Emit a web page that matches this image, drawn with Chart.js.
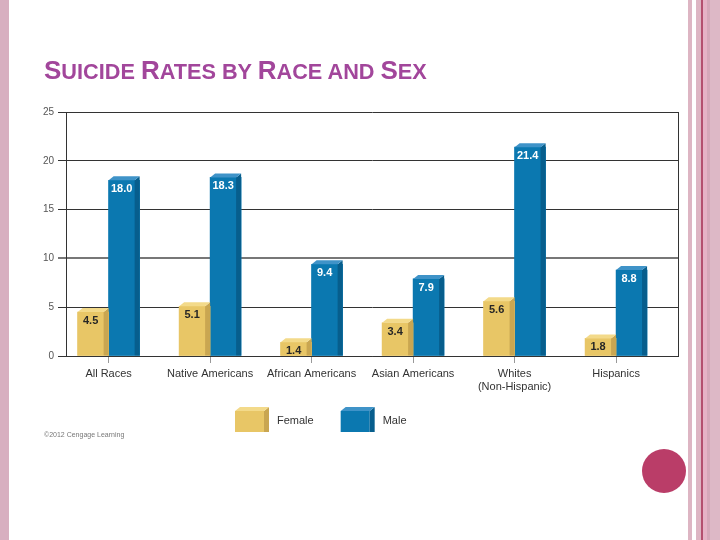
<!DOCTYPE html>
<html>
<head>
<meta charset="utf-8">
<script src="https://cdn.jsdelivr.net/npm/chart.js@4.4.1/dist/chart.umd.min.js"></script>
<style>
  html, body { margin: 0; padding: 0; background: #fff; }
  #slide { position: relative; width: 720px; height: 540px; overflow: hidden; font-family: "Liberation Sans", Arial, sans-serif; }
  #chart { position: absolute; left: 0; top: 0; }
  #title { position: absolute; left: 44px; top: 57px; font-size: 21.7px; line-height: 26px; font-weight: bold; color: #a2469b; white-space: nowrap; }
  #title .big { font-size: 26px; }
  #credit { position: absolute; left: 44px; top: 431px; font-size: 7px; color: #777; }
  .band { position: absolute; top: 0; height: 540px; }
  #dot { position: absolute; left: 642px; top: 449px; width: 44px; height: 44px; border-radius: 50%; background: #ba3d68; }
</style>
</head>
<body>
<div id="slide">
  <canvas id="chart" width="720" height="540"></canvas>
  <div class="band" style="left:0;width:9px;background:#d8afc0"></div>
  <div class="band" style="left:688px;width:4px;background:#ddb5c3"></div>
  <div class="band" style="left:696px;width:5px;background:#ddb5c3"></div>
  <div class="band" style="left:701px;width:2px;background:#b4506f"></div>
  <div class="band" style="left:703px;width:4px;background:#e6b3c6"></div>
  <div class="band" style="left:707px;width:3px;background:#d5a8b9"></div>
  <div class="band" style="left:710px;width:10px;background:#ddb8c6"></div>
  <div id="dot"></div>
  <div id="title"><span class="big">S</span>UICIDE <span class="big">R</span>ATES BY <span class="big">R</span>ACE AND <span class="big">S</span>EX</div>
  <div id="credit">©2012 Cengage Learning</div>
</div>
<script>
// data
const categories = ["All Races", "Native Americans", "African Americans", "Asian Americans", ["Whites", "(Non-Hispanic)"], "Hispanics"];
const female = [4.5, 5.1, 1.4, 3.4, 5.6, 1.8];
const male = [18.0, 18.3, 9.4, 7.9, 21.4, 8.8];
const yTicks = [0, 5, 10, 15, 20, 25];

const DEPTH_X = 5;
const DEPTH_Y = 4;

Chart.defaults.font.family = "'Liberation Sans', Arial, sans-serif";

function drawBox(ctx, left, right, top, bottom, front, side, topColor) {
  ctx.fillStyle = front;
  ctx.fillRect(left, top, right - left - DEPTH_X, bottom - top);
  // side face
  ctx.fillStyle = side;
  ctx.beginPath();
  ctx.moveTo(right - DEPTH_X, top);
  ctx.lineTo(right, top - DEPTH_Y);
  ctx.lineTo(right, bottom);
  ctx.lineTo(right - DEPTH_X, bottom);
  ctx.closePath();
  ctx.fill();
  // top face
  ctx.fillStyle = topColor;
  ctx.beginPath();
  ctx.moveTo(left, top);
  ctx.lineTo(left + DEPTH_X, top - DEPTH_Y);
  ctx.lineTo(right, top - DEPTH_Y);
  ctx.lineTo(right - DEPTH_X, top);
  ctx.closePath();
  ctx.fill();
}

// 3d faces + value labels on each bar
const bars3d = {
  id: "bars3d",
  afterDatasetDraw(chart, args) {
    const ctx = chart.ctx;
    const ds = chart.data.datasets[args.index];
    ctx.save();
    args.meta.data.forEach((el, i) => {
      const p = el.getProps(["x", "y", "base", "width"], true);
      const left = p.x - p.width / 2;
      const right = p.x + p.width / 2;
      drawBox(ctx, left, right, p.y, p.base, ds.backgroundColor, ds.sideColor, ds.topColor);
      ctx.fillStyle = ds.labelColor;
      ctx.font = "bold 11px 'Liberation Sans', Arial, sans-serif";
      ctx.textAlign = "center";
      ctx.textBaseline = "middle";
      ctx.fillText(ds.data[i].y.toFixed(1), (left + right - DEPTH_X) / 2, p.y + 9);
    });
    ctx.restore();
  },
};

const frame = {
  id: "frame",
  afterDatasetsDraw(chart) {
    const { ctx, chartArea } = chart;
    ctx.save();
    ctx.strokeStyle = "#333";
    ctx.lineWidth = 1;
    ctx.beginPath();
    ctx.moveTo(Math.round(chartArea.right) + 0.5, chartArea.top);
    ctx.lineTo(Math.round(chartArea.right) + 0.5, chartArea.bottom);
    ctx.stroke();
    ctx.restore();
  },
};

const boxLegend = {
  id: "boxLegend",
  afterDraw(chart) {
    const ctx = chart.ctx;
    ctx.save();
    ctx.font = "11px 'Liberation Sans', Arial, sans-serif";
    ctx.textBaseline = "middle";
    ctx.textAlign = "left";
    let x = 235;
    const top = 411, bottom = 432;
    chart.data.datasets.forEach((ds) => {
      drawBox(ctx, x, x + 34, top, bottom, ds.backgroundColor, ds.sideColor, ds.topColor);
      ctx.fillStyle = "#333";
      ctx.fillText(ds.label, x + 42, 421);
      x += 42 + ctx.measureText(ds.label).width + 27;
    });
    ctx.restore();
  },
};

new Chart(document.getElementById("chart"), {
  type: "bar",
  data: {
    datasets: [
      {
        label: "Female",
        data: female.map((v, i) => ({ x: i, y: v })),
        backgroundColor: "#e8c666",
        sideColor: "#c9a651",
        topColor: "#f3da8a",
        labelColor: "#262626",
        barThickness: 31,
      },
      {
        label: "Male",
        data: male.map((v, i) => ({ x: i, y: v })),
        backgroundColor: "#0b78b0",
        sideColor: "#075e8d",
        topColor: "#3f93c8",
        labelColor: "#ffffff",
        barThickness: 31,
      },
    ],
  },
  options: {
    responsive: false,
    animation: false,
    layout: { padding: { top: 112, left: 0, right: 42, bottom: 144 } },
    plugins: { legend: { display: false }, tooltip: { enabled: false } },
    elements: { bar: { borderWidth: 0 } },
    scales: {
      x: {
        type: "linear",
        min: -0.42,
        max: 5.61,
        bounds: "data",
        offset: false,
        afterBuildTicks: (scale) => {
          scale.ticks = categories.map((c, i) => ({ value: i }));
        },
        afterFit: (scale) => {
          scale.height = 40;
        },
        ticks: {
          autoSkip: false,
          maxRotation: 0,
          padding: 4,
          color: "#333",
          font: { size: 11, lineHeight: 1.2 },
          callback: (v) => categories[v],
        },
        grid: { offset: false, drawOnChartArea: false, drawTicks: true, tickLength: 7, color: "#999" },
        border: { color: "#333" },
      },
      y: {
        min: 0,
        max: 25,
        afterBuildTicks: (scale) => {
          scale.ticks = yTicks.map((v) => ({ value: v }));
        },
        afterFit: (scale) => {
          scale.width = 66;
        },
        ticks: { padding: 4, color: "#555", font: { size: 10 } },
        grid: {
          tickLength: 8,
          color: (c) => (c.tick && c.tick.value === 10 ? "#777" : "#333"),
          lineWidth: (c) => (c.tick && c.tick.value === 10 ? 2 : 1),
        },
        border: { color: "#333" },
      },
    },
  },
  plugins: [bars3d, frame, boxLegend],
});
</script>
</body>
</html>
